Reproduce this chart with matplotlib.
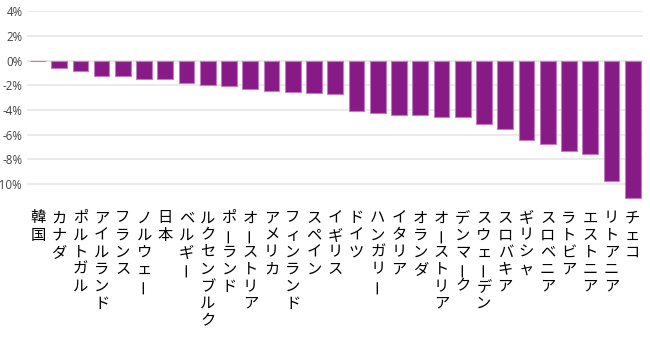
import matplotlib
matplotlib.use("Agg")
import matplotlib.pyplot as plt
from matplotlib.ticker import FuncFormatter

# 国名と変化率(%)
countries = ["韓国", "カナダ", "ポルトガル", "アイルランド", "フランス", "ノルウェー",
             "日本", "ベルギー", "ルクセンブルク", "ポーランド", "オーストリア",
             "アメリカ", "フィンランド", "スペイン", "イギリス", "ドイツ", "ハンガリー",
             "イタリア", "オランダ", "オーストリア", "デンマーク", "スウェーデン",
             "スロバキア", "ギリシャ", "スロベニア", "ラトビア", "エストニア",
             "リトアニア", "チェコ"]
values = [-0.02, -0.57, -0.86, -1.22, -1.27, -1.46, -1.51, -1.84, -2.0, -2.03,
          -2.35, -2.49, -2.59, -2.65, -2.74, -4.08, -4.22, -4.38, -4.43, -4.54,
          -4.59, -5.16, -5.59, -6.41, -6.73, -7.35, -7.54, -9.76, -11.14]
yticks = [4, 2, 0, -2, -4, -6, -8, -10]

fig = plt.figure(figsize=(6.5, 3.4), dpi=100)
ax = fig.add_axes([0.041, 0.412, 0.948, 0.557])

x = list(range(len(countries)))
ax.bar(x, values, width=0.74, color="#871a86", edgecolor="#c27cc1",
       linewidth=0.8, zorder=3)

ax.set_xlim(-0.53, len(countries) - 0.52)
ax.set_ylim(-11.3, 4.05)
ax.set_yticks(yticks)
ax.yaxis.set_major_formatter(FuncFormatter(lambda v, p: f"{v:.0f}%"))
ax.tick_params(axis="y", length=0, pad=3, labelsize=8.3, labelcolor="#444444")
for lab in ax.get_yticklabels():
    lab.set_fontfamily("Open Sans")
ax.set_xticks([])
ax.grid(axis="y", color="#e8e8e8", linewidth=1.3, zorder=0)
for s in ax.spines.values():
    s.set_visible(False)

# 縦書きラベル: 1文字ずつ並べる、長音符は90度回転
step = 12.3
for i, name in enumerate(countries):
    for j, ch in enumerate(name):
        ax.annotate(ch, xy=(i, 0), xycoords=("data", "axes fraction"),
                    xytext=(0, -13 - j * step), textcoords="offset points",
                    ha="center", va="center", fontsize=11,
                    family=["Noto Sans CJK JP", "DejaVu Sans"], color="#000000",
                    rotation=90 if ch == "ー" else 0, annotation_clip=False)

fig.savefig("out.png", dpi=100)
